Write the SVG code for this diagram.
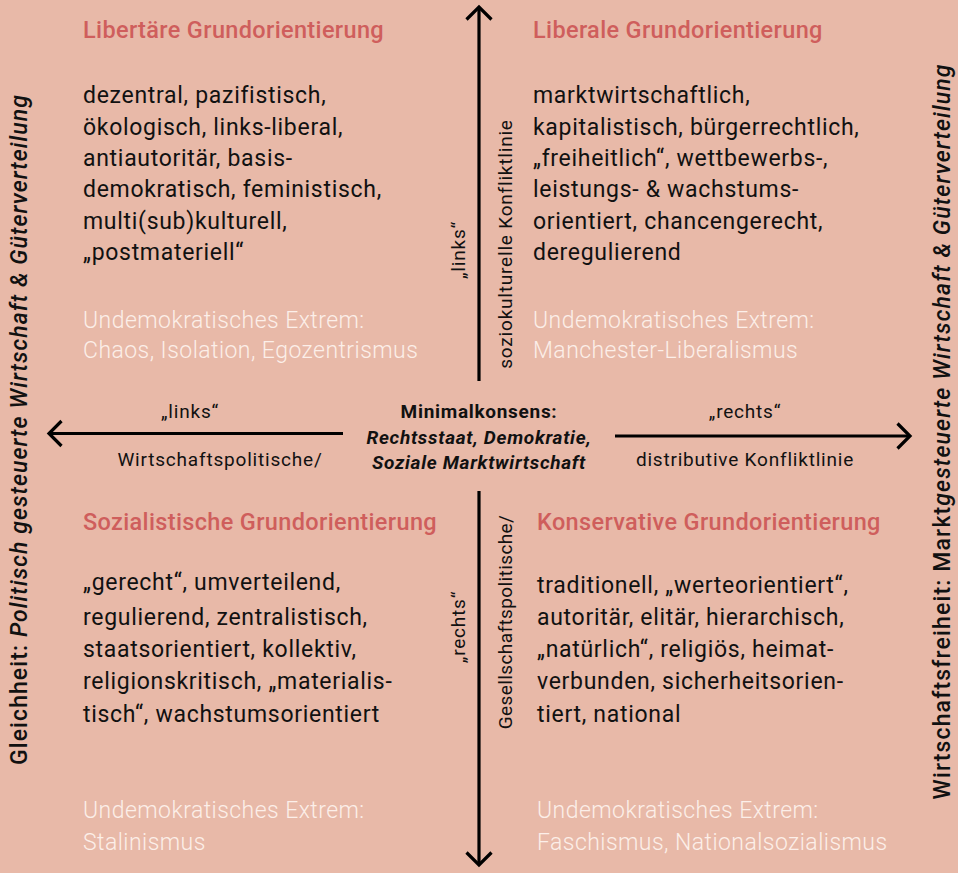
<svg xmlns="http://www.w3.org/2000/svg" width="958" height="873" viewBox="0 0 958 873">
<style>
text{font-family:Roboto,"Liberation Sans",sans-serif;fill:#111;}
.title{font-size:23.5px;font-weight:500;fill:#cf5e5c;letter-spacing:0.35px;}
.body{font-size:23px;letter-spacing:0.7px;}
.ext{font-size:23px;font-weight:300;fill:#fcefe9;letter-spacing:0.45px;}
.lab{font-size:19px;letter-spacing:0.8px;}
.side{font-size:23px;font-weight:500;}
.it{font-style:italic;}
.ctr{font-size:19px;font-weight:700;letter-spacing:0.7px;}
.arr{stroke:#000;stroke-width:3.2;fill:none;}
</style>
<rect width="958" height="873" fill="#e8b9a8"/>
<g id="connectors">
<line class="arr" x1="479" y1="7" x2="479" y2="381"/>
<polyline class="arr" points="466.5,19.5 479,7 491.5,19.5"/>
<line class="arr" x1="479" y1="491" x2="479" y2="865"/>
<polyline class="arr" points="466.5,852.5 479,865 491.5,852.5"/>
<line class="arr" x1="49" y1="433.5" x2="343" y2="433.5"/>
<polyline class="arr" points="61.5,421 49,433.5 61.5,446"/>
<line class="arr" x1="615" y1="436" x2="910" y2="436"/>
<polyline class="arr" points="897.5,423.5 910,436 897.5,448.5"/>
</g>
<g id="axis-labels">
<text class="lab" x="190" y="418" text-anchor="middle">„links“</text>
<text class="lab" x="220" y="466" text-anchor="middle">Wirtschaftspolitische/</text>
<text class="lab" x="745" y="418" text-anchor="middle">„rechts“</text>
<text class="lab" x="745" y="466" text-anchor="middle">distributive Konfliktlinie</text>
<text class="lab" transform="translate(465,250) rotate(-90)" text-anchor="middle">„links“</text>
<text class="lab" transform="translate(512,244) rotate(-90)" text-anchor="middle">soziokulturelle Konfliktlinie</text>
<text class="lab" transform="translate(465,627) rotate(-90)" text-anchor="middle">„rechts“</text>
<text class="lab" transform="translate(512,622) rotate(-90)" text-anchor="middle" style="letter-spacing:0.4px">Gesellschaftspolitische/</text>
</g>
<g id="center">
<text class="ctr" x="479" y="418" text-anchor="middle">Minimalkonsens:</text>
<text class="ctr it" x="479" y="444" text-anchor="middle">Rechtsstaat, Demokratie,</text>
<text class="ctr it" x="479" y="469" text-anchor="middle">Soziale Marktwirtschaft</text>
</g>
<g id="side-left">
<text class="side" transform="translate(27,430) rotate(-90)" text-anchor="middle" textLength="670" lengthAdjust="spacing">Gleichheit: <tspan class="it">Politisch gesteuerte Wirtschaft &amp; Güterverteilung</tspan></text>
</g>
<g id="side-right">
<text class="side" transform="translate(950,432) rotate(-90)" text-anchor="middle" textLength="735" lengthAdjust="spacing">Wirtschaftsfreiheit: Markt<tspan class="it">gesteuerte Wirtschaft &amp; Güterverteilung</tspan></text>
</g>
<g id="libertaer">
<text class="title" x="83" y="38">Libertäre Grundorientierung</text>
<text class="body" x="83" y="103">dezentral, pazifistisch,</text>
<text class="body" x="83" y="135">ökologisch, links-liberal,</text>
<text class="body" x="83" y="166">antiautoritär, basis-</text>
<text class="body" x="83" y="197">demokratisch, feministisch,</text>
<text class="body" x="83" y="229">multi(sub)kulturell,</text>
<text class="body" x="83" y="260">„postmateriell“</text>
<text class="ext" x="83" y="328">Undemokratisches Extrem:</text>
<text class="ext" x="83" y="358">Chaos, Isolation, Egozentrismus</text>
</g>
<g id="liberal">
<text class="title" x="533" y="38">Liberale Grundorientierung</text>
<text class="body" x="533" y="103">marktwirtschaftlich,</text>
<text class="body" x="533" y="135">kapitalistisch, bürgerrechtlich,</text>
<text class="body" x="533" y="166">„freiheitlich“, wettbewerbs-,</text>
<text class="body" x="533" y="197">leistungs- &amp; wachstums-</text>
<text class="body" x="533" y="229">orientiert, chancengerecht,</text>
<text class="body" x="533" y="260">deregulierend</text>
<text class="ext" x="533" y="328">Undemokratisches Extrem:</text>
<text class="ext" x="533" y="358">Manchester-Liberalismus</text>
</g>
<g id="sozialistisch">
<text class="title" x="83" y="530">Sozialistische Grundorientierung</text>
<text class="body" x="83" y="590">„gerecht“, umverteilend,</text>
<text class="body" x="83" y="625">regulierend, zentralistisch,</text>
<text class="body" x="83" y="657">staatsorientiert, kollektiv,</text>
<text class="body" x="83" y="689">religionskritisch, „materialis-</text>
<text class="body" x="83" y="722">tisch“, wachstumsorientiert</text>
<text class="ext" x="83" y="818">Undemokratisches Extrem:</text>
<text class="ext" x="83" y="850">Stalinismus</text>
</g>
<g id="konservativ">
<text class="title" x="537" y="530">Konservative Grundorientierung</text>
<text class="body" x="537" y="593">traditionell, „werteorientiert“,</text>
<text class="body" x="537" y="625">autoritär, elitär, hierarchisch,</text>
<text class="body" x="537" y="657">„natürlich“, religiös, heimat-</text>
<text class="body" x="537" y="689">verbunden, sicherheitsorien-</text>
<text class="body" x="537" y="722">tiert, national</text>
<text class="ext" x="537" y="818">Undemokratisches Extrem:</text>
<text class="ext" x="537" y="850">Faschismus, Nationalsozialismus</text>
</g>
</svg>
